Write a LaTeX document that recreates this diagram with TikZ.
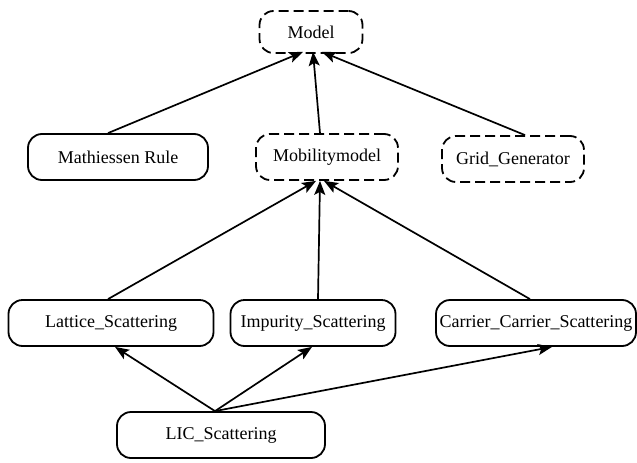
\documentclass[tikz,border=0pt]{standalone}
\usepackage{fontspec}
\setmainfont{Liberation Serif}
\usetikzlibrary{arrows.meta}
\begin{document}
\begin{tikzpicture}[x=1pt,y=-1pt,
  box/.style={draw, line width=1.8pt, rounded corners=14pt, inner sep=0pt, font=\fontsize{18}{20}\selectfont, minimum height=46pt},
  dbox/.style={box, dash pattern=on 10pt off 5pt},
  conn/.style={line width=1.7pt, -{Stealth[length=14pt,width=11pt,inset=3pt]}}]
\useasboundingbox (0,0) rectangle (637,463);
\node[dbox, minimum width=103pt, minimum height=42pt] (model) at (311,32) {Model};
\node[box, minimum width=180pt] (math) at (118,157) {Mathiessen Rule};
\node[dbox, minimum width=142pt] (mob) at (327,157) {Mobilitymodel};
\node[dbox, minimum width=142pt] (grid) at (513,159) {Grid\_Generator};
\node[box, minimum width=205pt] (lat) at (111,323) {Lattice\_Scattering};
\node[box, minimum width=165pt] (imp) at (313,323) {Impurity\_Scattering};
\node[box, minimum width=200pt] (car) at (536,323) {Carrier\_Carrier\_Scattering};
\node[box, minimum width=208pt] (lic) at (221,435) {LIC\_Scattering};
\draw[conn] ([xshift=-10pt]math.north) -- ([xshift=-8pt,yshift=2pt]model.south);
\draw[conn] ([xshift=-7pt]mob.north) -- ([xshift=2pt,yshift=2pt]model.south);
\draw[conn] ([xshift=12pt]grid.north) -- ([xshift=11pt,yshift=2pt]model.south);
\draw[conn] ([xshift=-3pt]lat.north) -- ([xshift=-11pt]mob.south);
\draw[conn] ([xshift=5pt]imp.north) -- ([xshift=-7pt]mob.south);
\draw[conn] ([xshift=-6pt]car.north) -- ([xshift=-3pt]mob.south);
\draw[conn] ([xshift=-6pt]lic.north) -- ([xshift=4pt]lat.south);
\draw[conn] ([xshift=-6pt]lic.north) -- ([xshift=-1pt]imp.south);
\draw[conn] ([xshift=-6pt]lic.north) -- ([xshift=16pt]car.south);
\end{tikzpicture}
\end{document}
